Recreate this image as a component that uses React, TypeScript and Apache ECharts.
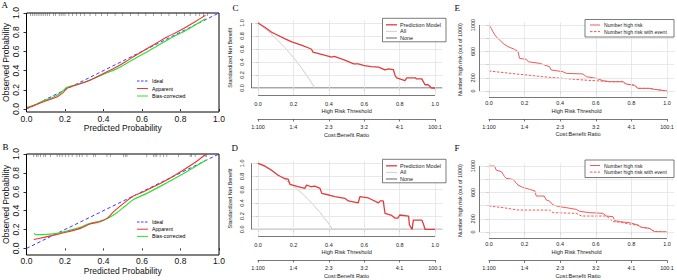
import React, { useEffect, useRef } from "react";
import * as echarts from "echarts";

// ---------------- DATA ----------------
const probTicks = [0, 0.2, 0.4, 0.6, 0.8, 1.0];
const idealLine = [[0, 0], [1, 1]];

const aApparent = [[0.003, 0.007], [0.05, 0.045], [0.09, 0.076], [0.13, 0.105], [0.16, 0.128], [0.19, 0.17], [0.21, 0.215], [0.26, 0.25], [0.33, 0.3], [0.4, 0.37], [0.47, 0.44], [0.54, 0.525], [0.61, 0.61], [0.67, 0.68], [0.73, 0.75], [0.78, 0.8], [0.83, 0.855], [0.88, 0.915], [0.93, 0.976]];
const aBiasCorrected = [[0.003, 0.017], [0.05, 0.05], [0.09, 0.087], [0.13, 0.115], [0.16, 0.145], [0.19, 0.19], [0.21, 0.225], [0.28, 0.266], [0.35, 0.318], [0.41, 0.37], [0.47, 0.42], [0.54, 0.5], [0.61, 0.578], [0.67, 0.645], [0.73, 0.716], [0.78, 0.77], [0.83, 0.82], [0.88, 0.88], [0.93, 0.94]];
const aRug = [0.02, 0.03, 0.04, 0.05, 0.06, 0.07, 0.08, 0.09, 0.1, 0.11, 0.12, 0.14, 0.15, 0.17, 0.18, 0.19, 0.2, 0.22, 0.24, 0.26, 0.28, 0.3, 0.33, 0.36, 0.39, 0.42, 0.46, 0.5, 0.54, 0.58, 0.62, 0.66, 0.7, 0.74, 0.78, 0.82, 0.85, 0.88, 0.9, 0.92, 0.94];

const bApparent = [[0.038, 0.095], [0.09, 0.117], [0.159, 0.148], [0.21, 0.173], [0.28, 0.212], [0.33, 0.258], [0.383, 0.283], [0.418, 0.318], [0.453, 0.389], [0.504, 0.477], [0.556, 0.555], [0.608, 0.6], [0.677, 0.67], [0.729, 0.724], [0.815, 0.83], [0.875, 0.91], [0.933, 1.0]];
const bBiasCorrected = [[0.038, 0.159], [0.055, 0.145], [0.107, 0.148], [0.159, 0.159], [0.21, 0.184], [0.28, 0.223], [0.33, 0.265], [0.383, 0.29], [0.418, 0.314], [0.46, 0.364], [0.513, 0.449], [0.556, 0.519], [0.625, 0.583], [0.729, 0.696], [0.832, 0.813], [0.933, 0.936]];
const bRug = [0.038, 0.052, 0.06, 0.073, 0.09, 0.098, 0.124, 0.159, 0.173, 0.185, 0.202, 0.22, 0.237, 0.262, 0.275, 0.289, 0.314, 0.349, 0.357, 0.418, 0.435, 0.504, 0.513, 0.522, 0.625, 0.66, 0.668, 0.677, 0.694, 0.712, 0.729, 0.789, 0.85, 0.858, 0.876, 0.928, 0.936];

const thresholdTicks = [0, 0.2, 0.4, 0.6, 0.8, 1.0];
const costBenefitLabels = ["1:100", "1:4", "2:3", "3:2", "4:1", "100:1"];
const netBenefitTicks = [0, 0.2, 0.4, 0.6, 0.8, 1.0];

const cModel = [[0, 1.0], [0.04, 0.93], [0.075, 0.86], [0.094, 0.835], [0.15, 0.76], [0.19, 0.71], [0.245, 0.66], [0.3, 0.6], [0.305, 0.58], [0.31, 0.55], [0.38, 0.5], [0.415, 0.475], [0.43, 0.485], [0.49, 0.43], [0.54, 0.37], [0.566, 0.37], [0.6, 0.345], [0.64, 0.33], [0.68, 0.32], [0.717, 0.28], [0.736, 0.295], [0.764, 0.284], [0.774, 0.19], [0.783, 0.155], [0.83, 0.113], [0.84, 0.155], [0.887, 0.155], [0.896, 0.14], [0.925, 0.14], [0.943, 0.05], [0.96, 0.05], [0.98, 0], [1.0, 0]];
const cAll = [[0, 1.0], [0.05, 0.89], [0.1, 0.764], [0.15, 0.625], [0.2, 0.47], [0.25, 0.29], [0.3, 0.09], [0.32, 0.0]];
const cNone = [[-0.04, 0], [1.04, 0]];

const dModel = [[0, 1.0], [0.038, 0.96], [0.075, 0.9], [0.113, 0.82], [0.15, 0.77], [0.17, 0.76], [0.18, 0.68], [0.21, 0.66], [0.264, 0.62], [0.274, 0.67], [0.3, 0.645], [0.32, 0.655], [0.35, 0.62], [0.36, 0.545], [0.4, 0.52], [0.434, 0.495], [0.49, 0.47], [0.51, 0.43], [0.566, 0.4], [0.575, 0.495], [0.623, 0.475], [0.68, 0.4], [0.69, 0.43], [0.707, 0.43], [0.717, 0.24], [0.755, 0.21], [0.774, 0.168], [0.79, 0.168], [0.8, 0.217], [0.85, 0.2], [0.855, 0.065], [0.87, 0], [0.877, 0.14], [0.925, 0.14], [0.934, 0.08], [0.943, 0], [1.0, 0]];
const dAll = [[0, 1.0], [0.05, 0.927], [0.1, 0.847], [0.15, 0.756], [0.2, 0.655], [0.25, 0.54], [0.3, 0.408], [0.35, 0.256], [0.4, 0.08], [0.42, 0.0]];
const dNone = [[-0.04, 0], [1.04, 0]];

const riskCountTicks = [0, 200, 400, 600, 800, 1000];
const riskCountLabels = [0, 200, 600, 1000];

const eHighRisk = [[0, 1000], [0.013, 950], [0.022, 900], [0.04, 823], [0.06, 773], [0.079, 722], [0.107, 672], [0.144, 631], [0.163, 596], [0.172, 495], [0.21, 480], [0.22, 444], [0.285, 419], [0.34, 369], [0.35, 318], [0.415, 293], [0.434, 268], [0.528, 258], [0.547, 217], [0.603, 192], [0.64, 157], [0.678, 141], [0.753, 141], [0.77, 106], [0.818, 86], [0.837, 40], [0.9, 40], [0.93, 25], [0.96, 15], [1.0, 0]];
const eWithEvent = [[0, 303], [0.154, 258], [0.266, 227], [0.34, 207], [0.434, 187], [0.528, 167], [0.62, 152], [0.678, 141], [0.753, 141], [0.77, 106], [0.818, 86], [0.837, 40], [0.9, 40], [0.93, 25], [0.96, 15], [1.0, 0]];

const fHighRisk = [[0, 1000], [0.032, 1000], [0.04, 940], [0.07, 914], [0.088, 838], [0.097, 813], [0.135, 798], [0.163, 712], [0.19, 677], [0.228, 646], [0.257, 626], [0.266, 545], [0.31, 545], [0.322, 485], [0.34, 470], [0.36, 409], [0.397, 384], [0.434, 369], [0.49, 343], [0.51, 313], [0.566, 293], [0.64, 283], [0.66, 242], [0.697, 232], [0.706, 172], [0.734, 157], [0.79, 141], [0.837, 106], [0.856, 71], [0.9, 56], [0.93, 5], [1.0, 0]];
const fWithEvent = [[0, 394], [0.079, 369], [0.163, 333], [0.34, 333], [0.36, 293], [0.49, 283], [0.52, 242], [0.66, 242], [0.697, 157], [0.734, 150], [0.79, 121], [0.837, 100], [0.856, 71], [0.9, 56], [0.93, 5], [1.0, 0]];

// ---------------- STYLE ----------------
const SANS = "Liberation Sans, Arial, Helvetica, sans-serif";
const SERIF = "Liberation Serif, Times New Roman, serif";
const BLUE = "#3b3bff";
const RED = "#ef3434";
const GREEN = "#2fe02f";
const DCA_RED = "#e33b3b";
const NB_RED = "#ee5a5a";
const ALL_GRAY = "#c8c8c8";
const NONE_GRAY = "#8a8a8a";
const GRIDLINE = "#e2e2e2";
const AXIS = "#555";

const fmt1 = (v: number) => v.toFixed(1);

function buildOption() {
  const grid: any[] = [];
  const xAxis: any[] = [];
  const yAxis: any[] = [];
  const series: any[] = [];
  const graphic: any[] = [];

  const txt = (text: string, x: number, y: number, size: number, extra: any = {}) => ({
    type: "text",
    x,
    y,
    z: 100,
    style: { text, fontSize: size, fontFamily: SANS, fill: "#000", align: "left", verticalAlign: "middle", ...extra },
  });
  const seg = (x1: number, y1: number, x2: number, y2: number, stroke: string, w: number, dash?: number[]) => ({
    type: "line",
    z: 100,
    shape: { x1, y1, x2, y2 },
    style: { stroke, lineWidth: w, lineDash: dash },
  });

  // ---------- calibration panels ----------
  const calib = (
    box: any, yMin: number, apparent: number[][], bias: number[][], rug: number[],
    lab: any, legend: { x: number; y: number; dy: number }
  ) => {
    const gi = grid.length;
    grid.push({ ...box, show: true, borderColor: "#000", borderWidth: 1, backgroundColor: "transparent" });
    xAxis.push({
      gridIndex: gi, type: "value", min: 0, max: 1, interval: 0.2,
      axisLine: { show: false },
      axisTick: { show: true, length: 2, lineStyle: { color: "#000", width: 0.8 } },
      axisLabel: { fontSize: 8.5, fontFamily: SANS, color: "#111", margin: lab.xm, formatter: fmt1 },
      splitLine: { show: false },
      name: "Predicted Probability", nameLocation: "middle", nameGap: lab.xg,
      nameTextStyle: { fontSize: 8.5, fontFamily: SANS, color: "#111" },
    });
    yAxis.push({
      gridIndex: gi, type: "value", min: yMin, max: 1,
      axisLine: { show: false },
      axisTick: { show: true, length: 3, customValues: probTicks, lineStyle: { color: "#000", width: 0.8 } },
      axisLabel: { customValues: probTicks, rotate: 90, fontSize: 8.5, fontFamily: SANS, color: "#111", margin: lab.ym, formatter: fmt1 },
      splitLine: { show: false },
      name: "Observed Probability", nameLocation: "middle", nameGap: lab.yg, nameRotate: 90,
      nameTextStyle: { fontSize: 8.5, fontFamily: SANS, color: "#111" },
    });
    const common = { xAxisIndex: gi, yAxisIndex: gi, type: "line", symbol: "none", silent: true };
    series.push({ ...common, name: "Ideal", data: idealLine, lineStyle: { color: BLUE, width: 1, type: [3.5, 2.5] }, z: 3 });
    series.push({ ...common, name: "Bias-corrected", data: bias, smooth: 0.35, lineStyle: { color: GREEN, width: 1.2 }, z: 4 });
    series.push({ ...common, name: "Apparent", data: apparent, smooth: 0.35, lineStyle: { color: RED, width: 1.1 }, z: 5 });
    series.push({
      xAxisIndex: gi, yAxisIndex: gi, type: "scatter", silent: true,
      data: rug.map((r) => [r, 1]), symbol: "rect", symbolSize: [0.6, 3], symbolOffset: [0, 1.5],
      itemStyle: { color: "#444" }, z: 6,
    });
    const items = [
      { t: "Ideal", c: BLUE, d: [2.5, 1.5] },
      { t: "Apparent", c: RED, d: undefined },
      { t: "Bias-corrected", c: GREEN, d: undefined },
    ];
    items.forEach((it, k) => {
      const y = legend.y + k * legend.dy;
      graphic.push(seg(legend.x, y, legend.x + 11, y, it.c, 1, it.d as any));
      graphic.push(txt(it.t, legend.x + 15, y, 5.2));
    });
  };

  calib({ left: 26, top: 13, width: 193, height: 99 }, -0.031, aApparent, aBiasCorrected, aRug,
    { xm: 2, xg: 11.5, ym: 6, yg: 16.5 }, { x: 137, y: 81, dy: 7.5 });
  calib({ left: 26, top: 154, width: 193, height: 101 }, -0.07, bApparent, bBiasCorrected, bRug,
    { xm: 1.5, xg: 10.5, ym: 6, yg: 16.5 }, { x: 137, y: 222, dy: 7.2 });

  // ---------- DCA / clinical impact panels ----------
  const dcaPanel = (p: any) => {
    const gi = grid.length;
    grid.push({ ...p.box, show: false });
    xAxis.push({
      gridIndex: gi, type: "value", min: p.xMin, max: p.xMax,
      axisLine: { show: false },
      axisTick: { show: true, length: 2.5, customValues: thresholdTicks, lineStyle: { color: AXIS, width: 0.8 } },
      axisLabel: { customValues: thresholdTicks, fontSize: 5.5, fontFamily: SANS, color: "#222", margin: p.xm, formatter: fmt1 },
      splitLine: { show: false },
      name: "High Risk Threshold", nameLocation: "middle", nameGap: p.xg,
      nameTextStyle: { fontSize: 5.6, fontFamily: SANS, color: "#222" },
    });
    yAxis.push({
      gridIndex: gi, type: "value", min: p.yMin, max: p.yMax,
      axisLine: { show: false },
      axisTick: { show: true, length: 2.5, customValues: p.yTicks, lineStyle: { color: AXIS, width: 0.8 } },
      axisLabel: { customValues: p.yLabels, rotate: 90, fontSize: 5.5, fontFamily: SANS, color: "#222", margin: p.ym, formatter: p.yFmt },
      splitLine: { show: false },
      name: p.yName, nameLocation: "middle", nameGap: p.yg, nameRotate: 90,
      nameTextStyle: { fontSize: 5.4, fontFamily: SANS, color: "#222" },
    });
    const common = { xAxisIndex: gi, yAxisIndex: gi, type: "line", symbol: "none", silent: true };
    const ml: any[] = [];
    thresholdTicks.forEach((v) => ml.push({ xAxis: v, lineStyle: { color: GRIDLINE, width: 0.8, type: "solid" } }));
    p.yTicks.forEach((v: number) => ml.push({ yAxis: v, lineStyle: { color: GRIDLINE, width: 0.8, type: "solid" } }));
    ml.push([{ coord: [0, p.yMin] }, { coord: [1, p.yMin], lineStyle: { color: AXIS, width: 0.8, type: "solid" } }]);
    ml.push([{ coord: [p.xMin, p.yTicks[0]] }, { coord: [p.xMin, p.yTicks[p.yTicks.length - 1]], lineStyle: { color: AXIS, width: 0.8, type: "solid" } }]);
    series.push({
      ...common, data: [[0, 0]], lineStyle: { opacity: 0 }, z: 1,
      markLine: { silent: true, symbol: ["none", "none"], label: { show: false }, animation: false, data: ml },
    });
    p.lines.forEach((l: any, k: number) => {
      series.push({ ...common, name: l.name, data: l.data, lineStyle: { color: l.color, width: l.width, type: l.dash || "solid" }, z: 3 + k });
    });

    // secondary Cost:Benefit axis on its own grid
    const si = grid.length;
    grid.push({ ...p.sec, show: false });
    xAxis.push({
      gridIndex: si, type: "value", min: 0, max: 1,
      axisLine: { show: true, lineStyle: { color: AXIS, width: 0.8 } },
      axisTick: { show: true, length: 2.5, customValues: thresholdTicks, lineStyle: { color: AXIS, width: 0.8 } },
      axisLabel: {
        customValues: thresholdTicks, fontSize: 5.5, fontFamily: SANS, color: "#222", margin: p.sm,
        formatter: (v: number) => {
          const i = thresholdTicks.findIndex((t) => Math.abs(t - v) < 1e-6);
          return i >= 0 ? costBenefitLabels[i] : "";
        },
      },
      splitLine: { show: false },
      name: "Cost:Benefit Ratio", nameLocation: "middle", nameGap: p.sg,
      nameTextStyle: { fontSize: 5.6, fontFamily: SANS, color: "#222" },
    });
    yAxis.push({ gridIndex: si, type: "value", min: 0, max: 1, show: false });

    // legend box
    const L = p.legend;
    graphic.push({ type: "rect", z: 99, shape: { x: L.x, y: L.y, width: L.w, height: L.h }, style: { fill: "#fff", stroke: "#444", lineWidth: 0.7 } });
    L.items.forEach((it: any, k: number) => {
      const y = L.y + L.pad + k * L.dy;
      graphic.push(seg(L.lx, y, L.lx + L.ll, y, it.c, it.w, it.d));
      graphic.push(txt(it.t, L.tx, y, L.fs, { fill: "#222" }));
    });
  };

  const dcaLegend = (y: number) => ({
    x: 382.5, y, w: 63.5, h: 23.5, pad: 6.5, dy: 6.6, lx: 386, ll: 11, tx: 400, fs: 5.5,
    items: [
      { t: "Prediction Model", c: DCA_RED, w: 1.3 },
      { t: "All", c: ALL_GRAY, w: 0.9 },
      { t: "None", c: NONE_GRAY, w: 1.3 },
    ],
  });
  const nbLegend = (y: number) => ({
    x: 585, y, w: 89, h: 17.5, pad: 5.5, dy: 6.6, lx: 590, ll: 10, tx: 604, fs: 5.1,
    items: [
      { t: "Number high risk", c: NB_RED, w: 1 },
      { t: "Number high risk with event", c: NB_RED, w: 1, d: [2.5, 1.5] },
    ],
  });

  const nbFmt = fmt1;
  dcaPanel({
    box: { left: 251, top: 20.4, width: 191.2, height: 74.6 }, xMin: -0.04, xMax: 1.04, yMin: -0.108, yMax: 1.04,
    yTicks: netBenefitTicks, yLabels: netBenefitTicks, yFmt: nbFmt, yName: "Standardized Net Benefit",
    xm: 6.2, xg: 13.2, ym: 5.8, yg: 18.2,
    sec: { left: 258, top: 109, width: 177, height: 10 }, sm: 5.2, sg: 12.7,
    lines: [
      { name: "None", data: cNone, color: NONE_GRAY, width: 1.3 },
      { name: "All", data: cAll, color: ALL_GRAY, width: 0.9 },
      { name: "Prediction Model", data: cModel, color: DCA_RED, width: 1.3 },
    ],
    legend: dcaLegend(18.3),
  });
  dcaPanel({
    box: { left: 251, top: 160.7, width: 191.2, height: 75.6 }, xMin: -0.04, xMax: 1.04, yMin: -0.106, yMax: 1.04,
    yTicks: netBenefitTicks, yLabels: netBenefitTicks, yFmt: nbFmt, yName: "Standardized Net Benefit",
    xm: 6, xg: 13, ym: 5.8, yg: 18.2,
    sec: { left: 258, top: 250, width: 177, height: 10 }, sm: 5.2, sg: 12.7,
    lines: [
      { name: "None", data: dNone, color: NONE_GRAY, width: 1.3 },
      { name: "All", data: dAll, color: ALL_GRAY, width: 0.9 },
      { name: "Prediction Model", data: dModel, color: DCA_RED, width: 1.3 },
    ],
    legend: dcaLegend(159.3),
  });
  const cntFmt = (v: number) => String(Math.round(v));
  dcaPanel({
    box: { left: 479, top: 22.4, width: 195.1, height: 74.6 }, xMin: -0.056, xMax: 1.04, yMin: -91, yMax: 1040,
    yTicks: riskCountTicks, yLabels: riskCountLabels, yFmt: cntFmt, yName: "Number high risk (out of 1000)",
    xm: 3.3, xg: 11.3, ym: 2.8, yg: 16.2,
    sec: { left: 489, top: 109, width: 178, height: 10 }, sm: 5.2, sg: 12.2,
    lines: [
      { name: "Number high risk with event", data: eWithEvent, color: NB_RED, width: 1, dash: [2.5, 1.5] },
      { name: "Number high risk", data: eHighRisk, color: NB_RED, width: 1 },
    ],
    legend: nbLegend(19.5),
  });
  dcaPanel({
    box: { left: 479, top: 163.4, width: 195.1, height: 74.6 }, xMin: -0.056, xMax: 1.04, yMin: -91, yMax: 1040,
    yTicks: riskCountTicks, yLabels: riskCountLabels, yFmt: cntFmt, yName: "Number high risk (out of 1000)",
    xm: 3.3, xg: 11.3, ym: 2.8, yg: 16.2,
    sec: { left: 489, top: 250.7, width: 178, height: 10 }, sm: 4.6, sg: 12.5,
    lines: [
      { name: "Number high risk with event", data: fWithEvent, color: NB_RED, width: 1, dash: [2.5, 1.5] },
      { name: "Number high risk", data: fHighRisk, color: NB_RED, width: 1 },
    ],
    legend: nbLegend(160),
  });

  // panel letters
  const letter = (t: string, x: number, y: number) => ({
    type: "text", x, y, z: 100,
    style: { text: t, fontSize: 9, fontFamily: SERIF, fill: "#000", align: "left", verticalAlign: "top" },
  });
  graphic.push(letter("A", 1.5, 0.5), letter("B", 2.5, 142), letter("C", 232.5, 3.5), letter("D", 231.5, 143.5), letter("E", 454.5, 3), letter("F", 454.5, 143.5));

  return {
    animation: false,
    backgroundColor: "#fff",
    textStyle: { fontFamily: SANS },
    grid, xAxis, yAxis, series, graphic,
  };
}

export default function App() {
  const ref = useRef<HTMLDivElement>(null);
  useEffect(() => {
    const chart = echarts.init(ref.current!, null, { renderer: "svg" });
    chart.setOption(buildOption() as any);
    return () => chart.dispose();
  }, []);
  return <div ref={ref} style={{ position: "absolute", left: 0, top: 0, width: 677, height: 280 }} />;
}
